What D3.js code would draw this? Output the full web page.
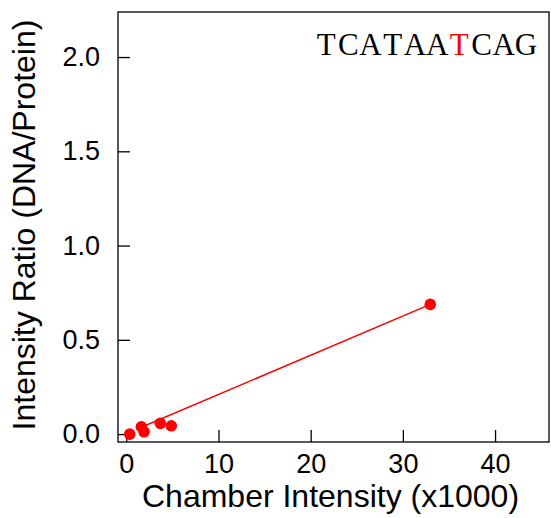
<!DOCTYPE html>
<html>
<head>
<meta charset="utf-8">
<script src="https://cdn.jsdelivr.net/npm/d3@7"></script>
<style>
  html, body { margin: 0; padding: 0; background: #fff; }
  svg { display: block; }
  text { font-family: "Liberation Sans", Arial, Helvetica, sans-serif; }
</style>
</head>
<body>
<svg id="chart" width="551" height="518"></svg>
<script>
// ---- data ----
const chamberIntensity = [0.37, 1.63, 1.92, 3.69, 4.88, 32.97];
const intensityRatio   = [0.0, 0.039, 0.012, 0.057, 0.044, 0.688];
const fitX = [1.63, 32.97];
const fitY = [0.036, 0.688];
const xTicks = [0, 10, 20, 30, 40];
const yTicks = [0.0, 0.5, 1.0, 1.5, 2.0];
const xDomain = [-0.9, 45.85];
const yDomain = [-0.042, 2.239];
const xTitle = "Chamber Intensity (x1000)";
const yTitle = "Intensity Ratio (DNA/Protein)";
const seqLetters = ["T","C","A","T","A","A","T","C","A","G"];
const highlightIndex = 6;

// ---- layout ----
const svg = d3.select("#chart");
const pL = 118, pR = 549, pT = 12, pB = 442;
const red = "#ff0000";

const x = d3.scaleLinear().domain(xDomain).range([pL, pR]);
const y = d3.scaleLinear().domain(yDomain).range([pB, pT]);

// frame
svg.append("rect")
  .attr("x", pL).attr("y", pT)
  .attr("width", pR - pL).attr("height", pB - pT)
  .attr("fill", "none").attr("stroke", "#000").attr("stroke-width", 1.3);

// axes
const xAxis = svg.append("g")
  .attr("transform", `translate(0,${pB})`)
  .call(d3.axisBottom(x).tickValues(xTicks).tickFormat(d3.format("d"))
        .tickSizeInner(-12).tickSizeOuter(0).tickPadding(12));
const yAxis = svg.append("g")
  .attr("transform", `translate(${pL},0)`)
  .call(d3.axisLeft(y).tickValues(yTicks).tickFormat(d3.format(".1f"))
        .tickSizeInner(-12).tickSizeOuter(0).tickPadding(18));
[xAxis, yAxis].forEach(g => {
  g.select(".domain").remove();
  g.selectAll(".tick line").attr("stroke", "#000").attr("stroke-width", 1.3);
  g.selectAll(".tick text")
    .attr("fill", "#000")
    .style("font-size", "27px")
    .style("font-family", '"Liberation Sans", Arial, Helvetica, sans-serif');
});

// fit line
const line = d3.line().x(d => x(d[0])).y(d => y(d[1]));
svg.append("path")
  .datum(d3.zip(fitX, fitY))
  .attr("d", line)
  .attr("fill", "none")
  .attr("stroke", red)
  .attr("stroke-width", 1.5);

// points
svg.append("g").selectAll("circle")
  .data(d3.zip(chamberIntensity, intensityRatio))
  .join("circle")
  .attr("cx", d => x(d[0]))
  .attr("cy", d => y(d[1]))
  .attr("r", 5.8)
  .attr("fill", red);

// axis titles
svg.append("text")
  .attr("x", (pL + pR) / 2 - 3)
  .attr("y", 507)
  .attr("text-anchor", "middle")
  .style("font-size", "32px")
  .attr("fill", "#000")
  .text(xTitle);

svg.append("text")
  .attr("transform", `translate(35,${(pT + pB) / 2 - 2}) rotate(-90)`)
  .attr("text-anchor", "middle")
  .style("font-size", "32px")
  .attr("fill", "#000")
  .text(yTitle);

// sequence label (typewriter look: serif glyphs on a fixed pitch)
const pitch = 22.2, seqStart = 315;
const seq = svg.append("text")
  .attr("y", 55)
  .attr("text-anchor", "middle")
  .style("font-family", '"Liberation Serif", serif')
  .style("font-size", "31px");
seq.selectAll("tspan")
  .data(seqLetters)
  .join("tspan")
  .attr("x", (d, i) => seqStart + pitch * (i + 0.5))
  .attr("fill", (d, i) => i === highlightIndex ? red : "#000")
  .text(d => d);
</script>
</body>
</html>
